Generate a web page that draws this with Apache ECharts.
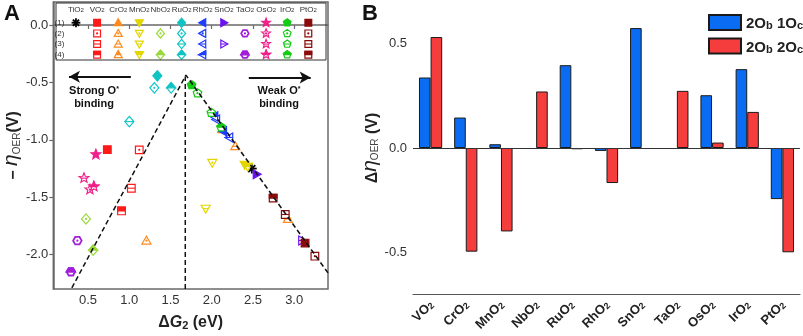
<!DOCTYPE html>
<html>
<head>
<meta charset="utf-8">
<script src="https://cdn.jsdelivr.net/npm/echarts@6/dist/echarts.min.js"></script>
<style>
  html, body { margin: 0; padding: 0; background: #fff; }
  #chart { width: 803px; height: 336px; }
</style>
</head>
<body>
<div id="chart"></div>
<script>
// ---- panel A: volcano plot ----
const compounds = ['TiO2', 'VO2', 'CrO2', 'MnO2', 'NbO2', 'RuO2', 'RhO2', 'SnO2', 'TaO2', 'OsO2', 'IrO2', 'PtO2']
const compColors = ['#000000', '#ff1a1a', '#ff8a1f', '#e3d600', '#9ad93a', '#10c4c4', '#1f3dff', '#6a12f0', '#a21fd8', '#f0208a', '#14cc14', '#8b0a0a']
const compShapes = ['asterisk', 'square', 'triUp', 'triDown', 'diamond', 'diamond', 'triLeft', 'triRight', 'hexagon', 'star', 'pentagon', 'square']

// one entry per point: compound index, surface model (1)-(4), dG2, -eta
const ptCompound = [0, 1, 1, 1, 1, 2, 2, 2, 2, 3, 3, 3, 3, 4, 4, 5, 5, 5, 5, 6, 6, 6, 6, 7, 7, 8, 8, 9, 9, 9, 9, 10, 10, 10, 10, 11, 11, 11, 11]
const ptRow = [1, 1, 2, 3, 4, 1, 2, 3, 4, 1, 2, 3, 4, 2, 4, 1, 2, 3, 4, 1, 2, 3, 4, 1, 3, 2, 4, 1, 2, 3, 4, 1, 2, 3, 4, 1, 2, 3, 4]
const ptX = [2.486, 0.735, 1.122, 1.026, 0.907, 2.127, 1.209, 2.286, 2.924, 2.40, 2.007, 1.927, 2.437, 0.476, 0.563,
  1.341, 1.305, 1.002, 1.508, 2.139, 2.055, 2.214, 2.031, 2.545, 3.096, 0.372, 0.293, 0.596, 0.524, 0.452, 0.572,
  1.756, 1.828, 1.995, 2.115, 3.132, 3.251, 2.892, 2.745]
const ptY = [-1.251, -1.086, -1.088, -1.422, -1.62, -0.908, -1.879, -1.057, -1.69, -1.217, -1.20, -1.60, -1.234, -1.69, -1.962,
  -0.443, -0.548, -0.842, -0.548, -0.925, -0.823, -0.98, -0.797, -1.30, -1.877, -1.879, -2.15, -1.128, -1.434, -1.334, -1.408,
  -0.523, -0.594, -0.765, -0.891, -1.90, -2.014, -1.651, -1.508]

const volcanoX = [0.305, 1.688, 3.41]
const volcanoY = [-2.29, -0.437, -2.16]
const apexX = [1.68, 1.68]
const apexY = [-2.3, -0.45]
const ticksAX = [0.5, 1.0, 1.5, 2.0, 2.5, 3.0]
const ticksAY = [-2.0, -1.5, -1.0, -0.5, 0.0]
const tableRows = [1, 2, 3, 4]

// ---- panel B: bars ----
const categoriesB = ['VO2', 'CrO2', 'MnO2', 'NbO2', 'RuO2', 'RhO2', 'SnO2', 'TaO2', 'OsO2', 'IrO2', 'PtO2']
const oneOc = [0.338, 0.146, 0.018, null, 0.397, -0.014, 0.575, null, 0.253, 0.378, -0.245]
const twoOc = [0.532, -0.497, -0.40, 0.271, -0.006, -0.168, null, 0.274, 0.026, 0.173, -0.50]
const ticksBLabel = [-0.5, 0.0, 0.5]
const ticksBAll = [-0.5, -0.25, 0.0, 0.25, 0.5]

const FONT = 'Arial, "Liberation Sans", sans-serif'

function regular(n, r, start) {
  const pts = []
  for (let i = 0; i < n; i++) {
    const a = (start + i * 360 / n) * Math.PI / 180
    pts.push([r * Math.cos(a), r * Math.sin(a)])
  }
  return pts
}

function polyPts(shape, r) {
  if (shape === 'square') { const s = r * 0.85; return [[-s, -s], [s, -s], [s, s], [-s, s]] }
  if (shape === 'triUp') return [[0, -r], [r, r * 0.75], [-r, r * 0.75]]
  if (shape === 'triDown') return [[0, r], [r, -r * 0.75], [-r, -r * 0.75]]
  if (shape === 'triLeft') return [[-r, 0], [r * 0.75, -r], [r * 0.75, r]]
  if (shape === 'triRight') return [[r, 0], [-r * 0.75, -r], [-r * 0.75, r]]
  if (shape === 'diamond') return [[0, -r * 1.15], [r, 0], [0, r * 1.15], [-r, 0]]
  if (shape === 'pentagon') return regular(5, r, -90)
  if (shape === 'hexagon') return regular(6, r * 0.95, 0)
  if (shape === 'star') {
    const pts = []
    for (let i = 0; i < 10; i++) {
      const rr = i % 2 ? r * 0.5 : r * 1.15
      const a = (-90 + i * 36) * Math.PI / 180
      pts.push([rr * Math.cos(a), rr * Math.sin(a)])
    }
    return pts
  }
  return []
}

// upper half of a polygon (y <= 0)
function clipTop(pts) {
  const out = []
  for (let i = 0; i < pts.length; i++) {
    const a = pts[i], b = pts[(i + 1) % pts.length]
    const ina = a[1] <= 0, inb = b[1] <= 0
    if (ina) out.push(a)
    if (ina !== inb) {
      const t = a[1] / (a[1] - b[1])
      out.push([a[0] + t * (b[0] - a[0]), 0])
    }
  }
  return out
}

function midSpan(pts) {
  const xs = []
  for (let i = 0; i < pts.length; i++) {
    const a = pts[i], b = pts[(i + 1) % pts.length]
    if (Math.min(a[1], b[1]) <= 0 && Math.max(a[1], b[1]) >= 0 && a[1] !== b[1]) {
      xs.push(a[0] + (0 - a[1]) / (b[1] - a[1]) * (b[0] - a[0]))
    }
  }
  return [Math.min(...xs), Math.max(...xs)]
}

function makeMarker(x, y, ci, row, r) {
  const color = compColors[ci]
  const shape = compShapes[ci]
  const children = []
  if (shape === 'asterisk') {
    for (let k = 0; k < 4; k++) {
      const a = k * Math.PI / 4, l = r * 1.1
      children.push({ type: 'line', shape: { x1: -l * Math.cos(a), y1: -l * Math.sin(a), x2: l * Math.cos(a), y2: l * Math.sin(a) },
        style: { stroke: color, lineWidth: 1.8 } })
    }
    return { type: 'group', x: x, y: y, children: children }
  }
  const pts = polyPts(shape, r)
  const lw = shape === 'hexagon' ? 1.8 : 1.2
  children.push({ type: 'polygon', shape: { points: pts },
    style: { fill: row === 1 ? color : '#fff', stroke: color, lineWidth: lw } })
  if (row === 2) {
    children.push({ type: 'circle', shape: { cx: 0, cy: 0, r: 1.1 }, style: { fill: color } })
  } else if (row === 3) {
    const sp = midSpan(pts)
    children.push({ type: 'line', shape: { x1: sp[0], y1: 0, x2: sp[1], y2: 0 }, style: { stroke: color, lineWidth: 1.1 } })
  } else if (row === 4) {
    children.push({ type: 'polygon', shape: { points: clipTop(pts) }, style: { fill: color, stroke: color, lineWidth: lw } })
  }
  return { type: 'group', x: x, y: y, children: children }
}

function subLabel(name, big, small) {
  const m = name.match(/^(.*?)(\d*)$/)
  return '{' + big + '|' + m[1] + '}' + (m[2] ? '{' + small + '|' + m[2] + '}' : '')
}

const axisGrey = '#6a6a6a'
const pointData = ptX.map((x, i) => [x, ptY[i], ptCompound[i], ptRow[i]])
const tableData = ptCompound.map((c, i) => [c, ptRow[i], c, ptRow[i]])

const chart = echarts.init(document.getElementById('chart'), null, { renderer: 'canvas' })
chart.setOption({
  animation: false,
  textStyle: { fontFamily: FONT },
  grid: [
    { left: 50, top: 2, width: 278, height: 291, show: true, borderColor: axisGrey, borderWidth: 1.5 },
    { left: 413, top: 2, width: 387, height: 292 },
    { left: 65.4, top: 17.4, width: 253.5, height: 42.6 }
  ],
  xAxis: [
    {
      type: 'value', gridIndex: 0, min: 0.08, max: 3.41,
      splitLine: { show: false },
      axisLine: { lineStyle: { color: axisGrey, width: 1.5 } },
      axisTick: { customValues: ticksAX, length: 4, lineStyle: { color: axisGrey, width: 1.2 } },
      axisLabel: { customValues: ticksAX, formatter: v => v.toFixed(1), color: '#333', fontSize: 13, margin: 5 },
      name: '{m|Δ}{g|G}{s|2}{m| (eV)}', nameLocation: 'middle', nameGap: 22,
      nameTextStyle: { rich: {
        m: { fontSize: 16, fontWeight: 'bold', color: '#222', lineHeight: 20, verticalAlign: 'bottom' },
        g: { fontSize: 16, fontWeight: 'bold', fontStyle: 'italic', color: '#222', lineHeight: 20, verticalAlign: 'bottom' },
        s: { fontSize: 11, fontWeight: 'bold', color: '#222', lineHeight: 12, verticalAlign: 'bottom' }
      } }
    },
    {
      type: 'category', gridIndex: 1, data: categoriesB,
      axisLine: { onZero: false, lineStyle: { color: '#555', width: 1.2 } },
      axisTick: { alignWithLabel: true, length: 4, lineStyle: { color: '#555' } },
      axisLabel: {
        rotate: 45, margin: 8, interval: 0,
        formatter: v => subLabel(v, 'a', 's'),
        rich: {
          a: { fontSize: 13, fontWeight: 'bold', color: '#222', lineHeight: 16, verticalAlign: 'bottom' },
          s: { fontSize: 9, fontWeight: 'bold', color: '#222', lineHeight: 10, verticalAlign: 'bottom' }
        }
      }
    },
    {
      type: 'value', gridIndex: 2, min: -0.5, max: 11.5, position: 'top',
      splitLine: { show: false }, axisLine: { show: false }, axisTick: { show: false },
      axisLabel: {
        customValues: compounds.map((c, i) => i), margin: 4,
        formatter: v => subLabel(compounds[v], 'a', 's'),
        rich: {
          a: { fontSize: 8, color: '#333', lineHeight: 10, verticalAlign: 'bottom' },
          s: { fontSize: 6, color: '#333', lineHeight: 7, verticalAlign: 'bottom' }
        }
      }
    }
  ],
  yAxis: [
    {
      type: 'value', gridIndex: 0, min: -2.3, max: 0.2,
      splitLine: { show: false },
      axisLine: { lineStyle: { color: axisGrey, width: 1.5 } },
      axisTick: { customValues: ticksAY, length: 4, lineStyle: { color: axisGrey, width: 1.2 } },
      axisLabel: { customValues: ticksAY, formatter: v => v.toFixed(1), color: '#333', fontSize: 13, margin: 5 },
      name: '{m|− }{e|η}{s|OER}{m|(V)}', nameLocation: 'middle', nameGap: 30,
      nameTextStyle: { rich: {
        m: { fontSize: 16, fontWeight: 'bold', color: '#222', lineHeight: 22, verticalAlign: 'bottom' },
        e: { fontSize: 21, fontStyle: 'italic', color: '#222', lineHeight: 22, verticalAlign: 'bottom' },
        s: { fontSize: 10, color: '#444', lineHeight: 12, verticalAlign: 'bottom' }
      } }
    },
    {
      type: 'value', gridIndex: 1, min: -0.7, max: 0.7,
      splitLine: { show: false },
      axisLine: { lineStyle: { color: '#555', width: 1.2 } },
      axisTick: { customValues: ticksBAll, length: 4, lineStyle: { color: '#555' } },
      axisLabel: { customValues: ticksBLabel, formatter: v => v.toFixed(1), color: '#333', fontSize: 13, margin: 6 },
      name: '{m|Δ}{e|η}{s|OER}{m| (V)}', nameLocation: 'middle', nameGap: 28,
      nameTextStyle: { rich: {
        m: { fontSize: 16, fontWeight: 'bold', color: '#222', lineHeight: 22, verticalAlign: 'bottom' },
        e: { fontSize: 21, fontStyle: 'italic', color: '#222', lineHeight: 22, verticalAlign: 'bottom' },
        s: { fontSize: 10, color: '#444', lineHeight: 12, verticalAlign: 'bottom' }
      } }
    },
    {
      type: 'value', gridIndex: 2, min: 0.5, max: 4.5, inverse: true,
      splitLine: { show: false }, axisLine: { show: false }, axisTick: { show: false },
      axisLabel: { customValues: tableRows, formatter: v => '(' + v + ')', fontSize: 8, color: '#333', margin: 1 }
    },
    {
      type: 'value', gridIndex: 1, min: -0.7, max: 0.7, position: 'right',
      splitLine: { show: false },
      axisLine: { lineStyle: { color: '#555', width: 1.2 } },
      axisTick: { inside: true, customValues: ticksBAll, length: 4, lineStyle: { color: '#555' } },
      axisLabel: { show: false }
    }
  ],
  legend: {
    data: ['2Ob 1Oc', '2Ob 2Oc'],
    orient: 'vertical', left: 703, top: 9,
    icon: 'rect', itemWidth: 32, itemHeight: 15, itemGap: 6,
    formatter: name => name.split(' ').map(t => '{n|' + t.slice(0, 2) + '}{s|' + t.slice(2) + '}').join('{n| }'),
    textStyle: { rich: {
      n: { fontSize: 15, fontWeight: 'bold', color: '#222', lineHeight: 18, verticalAlign: 'bottom' },
      s: { fontSize: 11, fontWeight: 'bold', color: '#222', lineHeight: 12, verticalAlign: 'bottom' }
    } }
  },
  graphic: [
    { type: 'text', x: 4, y: 3, style: { text: 'A', font: 'bold 22px ' + FONT, fill: '#111' } },
    { type: 'text', x: 362, y: 3, style: { text: 'B', font: 'bold 22px ' + FONT, fill: '#111' } },
    { type: 'rect', z: 10, shape: { x: 56, y: 3, width: 270, height: 57 }, style: { fill: 'none', stroke: '#333', lineWidth: 1 } },
    { type: 'text', x: 94, y: 91, style: { text: '{b|Strong O}{p|*}', align: 'center', verticalAlign: 'middle',
      rich: { b: { font: 'bold 11px ' + FONT, fill: '#111' }, p: { font: 'bold 7px ' + FONT, fill: '#111', verticalAlign: 'top' } } } },
    { type: 'text', x: 94, y: 104, style: { text: 'binding', font: 'bold 11px ' + FONT, fill: '#111', align: 'center', verticalAlign: 'middle' } },
    { type: 'text', x: 279, y: 91, style: { text: '{b|Weak O}{p|*}', align: 'center', verticalAlign: 'middle',
      rich: { b: { font: 'bold 11px ' + FONT, fill: '#111' }, p: { font: 'bold 7px ' + FONT, fill: '#111', verticalAlign: 'top' } } } },
    { type: 'text', x: 279, y: 104, style: { text: 'binding', font: 'bold 11px ' + FONT, fill: '#111', align: 'center', verticalAlign: 'middle' } }
  ],
  series: [
    {
      type: 'line', xAxisIndex: 0, yAxisIndex: 0, silent: true, symbol: 'none',
      data: volcanoX.map((x, i) => [x, volcanoY[i]]),
      lineStyle: { color: '#111', width: 1.5, type: [5, 3] },
      markLine: {
        silent: true, symbol: ['none', 'arrow'], symbolSize: [9, 11],
        label: { show: false },
        lineStyle: { color: '#111', width: 2, type: 'solid' },
        data: [
          [{ coord: [1.02, -0.452] }, { coord: [0.27, -0.452] }],
          [{ coord: [2.45, -0.457] }, { coord: [3.20, -0.457] }]
        ]
      }
    },
    {
      type: 'line', xAxisIndex: 0, yAxisIndex: 0, silent: true, symbol: 'none',
      data: apexX.map((x, i) => [x, apexY[i]]),
      lineStyle: { color: '#111', width: 1.5, type: [5, 3] }
    },
    {
      type: 'custom', xAxisIndex: 0, yAxisIndex: 0, silent: true,
      data: pointData,
      renderItem: (params, api) => {
        const p = api.coord([api.value(0), api.value(1)])
        return makeMarker(p[0], p[1], api.value(2), api.value(3), 4.5)
      }
    },
    {
      type: 'custom', xAxisIndex: 2, yAxisIndex: 2, silent: true,
      data: tableData,
      renderItem: (params, api) => {
        const p = api.coord([api.value(0), api.value(1)])
        return makeMarker(p[0], p[1], api.value(2), api.value(3), 4.0)
      }
    },
    {
      name: '2Ob 1Oc', type: 'bar', xAxisIndex: 1, yAxisIndex: 1,
      data: oneOc, barWidth: '33%', barGap: '0%',
      itemStyle: { color: '#0a6cf2', borderColor: '#1a1a1a', borderWidth: 1 },
      markLine: {
        silent: true, symbol: 'none', label: { show: false },
        lineStyle: { color: '#333', width: 1, type: 'solid' },
        data: [{ yAxis: 0 }]
      }
    },
    {
      name: '2Ob 2Oc', type: 'bar', xAxisIndex: 1, yAxisIndex: 1,
      data: twoOc, barWidth: '33%', barGap: '0%',
      itemStyle: { color: '#f53d3d', borderColor: '#1a1a1a', borderWidth: 1 }
    }
  ]
})
</script>
</body>
</html>
